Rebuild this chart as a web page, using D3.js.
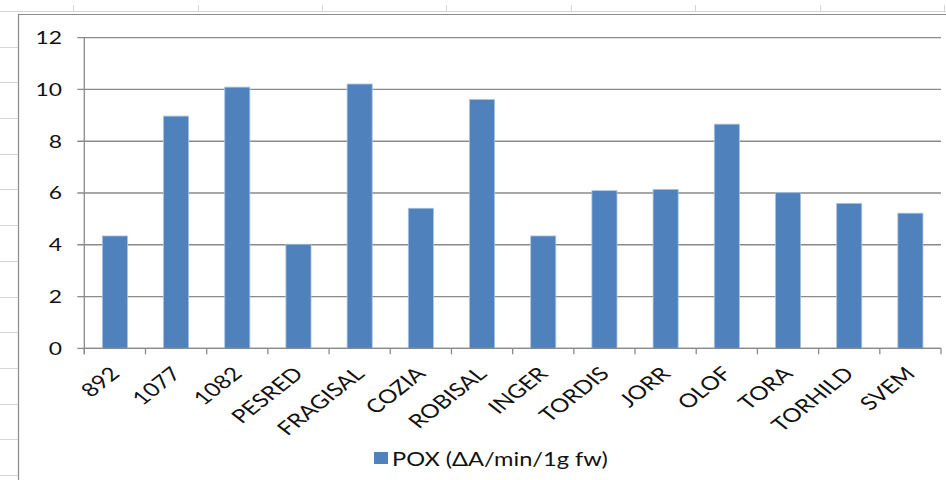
<!DOCTYPE html>
<html><head><meta charset="utf-8">
<script src="https://cdn.jsdelivr.net/npm/d3@7"></script>
<style>html,body{margin:0;padding:0;background:#fff;overflow:hidden}</style>
</head><body>
<svg id="c" width="946" height="480"></svg>
<script>
const categories = ["892","1077","1082","PESRED","FRAGISAL","COZIA","ROBISAL","INGER","TORDIS","JORR","OLOF","TORA","TORHILD","SVEM"];
const poxValues = [4.34,8.97,10.09,4.02,10.21,5.41,9.61,4.34,6.09,6.14,8.66,6.01,5.60,5.22];
const yTicks = [0,2,4,6,8,10,12];
const seriesName = "POX (ΔA/min/1g fw)";
// spreadsheet cell separators visible around the chart
const colSeparators = [73,198,322,446,571,695,820,944];
const rowSeparators = [47,82,118,154,189,225,261,297,332,368,404,439,475];

const SX = 1.27; // horizontal stretch of the screenshot's text
const FONT = "Lato, 'Open Sans', sans-serif";
const svg = d3.select("#c");

// spreadsheet background lines
svg.append("line").attr("x1",0).attr("x2",946).attr("y1",11.5).attr("y2",11.5).attr("stroke","#d6d6d6");
svg.selectAll("line.col").data(colSeparators).join("line").attr("class","col")
  .attr("x1",d=>d+0.5).attr("x2",d=>d+0.5).attr("y1",5).attr("y2",12).attr("stroke","#d6d6d6");
svg.selectAll("line.row").data(rowSeparators).join("line").attr("class","row")
  .attr("x1",0).attr("x2",18).attr("y1",d=>d+0.5).attr("y2",d=>d+0.5).attr("stroke","#d6d6d6");
// chart border
svg.append("path").attr("d","M18.5,480 V14.5 H946").attr("fill","none").attr("stroke","#8c8c8c").attr("stroke-width",1.2);

const pLeft = 84.3, pRight = 941, pTop = 37.7, pBottom = 348.3;
const x = d3.scaleBand().domain(categories).range([pLeft,pRight]).paddingInner(0.59).paddingOuter(0.295);
const y = d3.scaleLinear().domain([0,12]).range([pBottom,pTop]);
const step = x.step();

// gridlines + y ticks
const gy = svg.append("g");
gy.selectAll("line").data(yTicks).join("line")
  .attr("x1",pLeft-7).attr("x2",pRight).attr("y1",d=>y(d)).attr("y2",d=>y(d))
  .attr("stroke","#8a8a8a").attr("stroke-width",1.3);
gy.selectAll("text").data(yTicks).join("text")
  .attr("transform",d=>`translate(62,${y(d)}) scale(${SX},1)`)
  .attr("text-anchor","end").attr("dy","0.36em")
  .attr("font-family",FONT).attr("font-size",18).attr("fill","#111")
  .text(d=>d);

// y axis line
svg.append("line").attr("x1",pLeft).attr("x2",pLeft).attr("y1",pTop).attr("y2",pBottom+6)
  .attr("stroke","#8a8a8a").attr("stroke-width",1.3);
// x axis ticks at category boundaries
const bounds = categories.map((c,i)=>pLeft+i*step).concat([pRight]);
svg.selectAll("line.xt").data(bounds).join("line").attr("class","xt")
  .attr("x1",d=>d).attr("x2",d=>d).attr("y1",pBottom).attr("y2",pBottom+6)
  .attr("stroke","#8a8a8a").attr("stroke-width",1.3);

// bars
svg.selectAll("rect.bar").data(poxValues).join("rect").attr("class","bar")
  .attr("x",(d,i)=>x(categories[i])).attr("width",x.bandwidth())
  .attr("y",d=>y(d)).attr("height",d=>y(0)-y(d))
  .attr("fill","#4f81bd").attr("stroke","#a9c2e0").attr("stroke-width",0.8);

// x axis line on top of bars
svg.append("line").attr("x1",pLeft).attr("x2",pRight).attr("y1",pBottom).attr("y2",pBottom)
  .attr("stroke","#8a8a8a").attr("stroke-width",1.3);

// rotated category labels
svg.selectAll("text.xl").data(categories).join("text").attr("class","xl")
  .attr("transform",d=>`translate(${x(d)+x.bandwidth()/2+6},375) scale(${SX},1) rotate(-45)`)
  .attr("text-anchor","end")
  .attr("font-family",FONT).attr("font-size",19).attr("fill","#111")
  .text(d=>d);

// legend
svg.append("rect").attr("x",374).attr("y",452).attr("width",14).attr("height",12).attr("fill","#4f81bd");
svg.append("text").attr("transform",`translate(392,466) scale(${SX},1)`)
  .attr("font-family",FONT).attr("font-size",18.6).attr("fill","#111")
  .text(seriesName);
</script>
</body></html>
